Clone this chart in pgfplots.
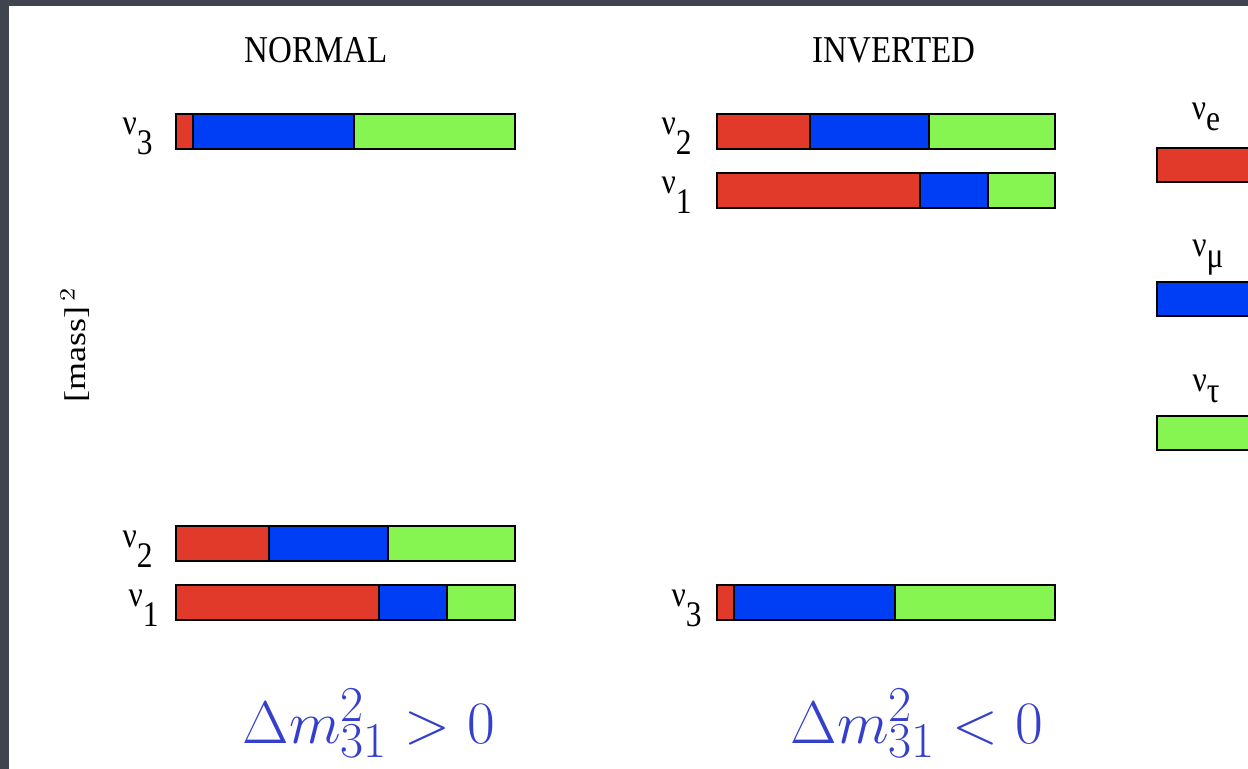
\documentclass[border=0pt]{standalone}
\usepackage{fontspec}
\setmainfont{Liberation Serif}
\usepackage{pgfplots}
\pgfplotsset{compat=1.18}
\definecolor{nred}{RGB}{226,58,42}
\definecolor{nblue}{RGB}{0,62,245}
\definecolor{ngreen}{RGB}{134,245,82}
\definecolor{dmblue}{RGB}{52,64,204}
\definecolor{slidebg}{RGB}{64,68,78}
\pgfplotsset{
  base/.style={scale only axis, width=624pt, height=384.5pt,
    xmin=0, xmax=1248, ymin=0, ymax=769, y dir=reverse, hide axis,
    at={(0pt,0pt)}, anchor=south west},
  stk/.style={base, xbar stacked, bar width=35, bar shift=0pt},
  seg/.style={fill=#1, draw=black, line width=1pt},
}
\newcommand{\nul}[2]{\scalebox{1.05}[1.2]{ν\raisebox{#2}{#1}}}
\begin{document}
\begin{tikzpicture}
% background and text
\begin{axis}[base, clip=false]
\fill[slidebg] (axis cs:0,0) rectangle (axis cs:1248,769);
\fill[white] (axis cs:9,6) rectangle (axis cs:1248,769);
\node[anchor=base, font=\fontsize{16.5}{16.5}\selectfont] at (axis cs:316,63) {\scalebox{1}[1.15]{NORMAL}};
\node[anchor=base, font=\fontsize{16.5}{16.5}\selectfont] at (axis cs:894,63) {\scalebox{1}[1.15]{INVERTED}};
\node[anchor=base, font=\fontsize{15}{15}\selectfont, rotate=90] at (axis cs:85,345) {\scalebox{1.2}[1]{[mass]$^{\,2}$}};
% normal labels
\node[anchor=base east, font=\fontsize{15}{15}\selectfont, inner sep=0pt] at (axis cs:153,135) {\nul{3}{-0.55em}};
\node[anchor=base east, font=\fontsize{15}{15}\selectfont, inner sep=0pt] at (axis cs:153,548) {\nul{2}{-0.55em}};
\node[anchor=base east, font=\fontsize{15}{15}\selectfont, inner sep=0pt] at (axis cs:159,607) {\nul{1}{-0.55em}};
% inverted labels
\node[anchor=base east, font=\fontsize{15}{15}\selectfont, inner sep=0pt] at (axis cs:692,135) {\nul{2}{-0.55em}};
\node[anchor=base east, font=\fontsize{15}{15}\selectfont, inner sep=0pt] at (axis cs:692,194) {\nul{1}{-0.55em}};
\node[anchor=base east, font=\fontsize{15}{15}\selectfont, inner sep=0pt] at (axis cs:702,607) {\nul{3}{-0.55em}};
% legend labels
\node[anchor=base, font=\fontsize{15}{15}\selectfont, inner sep=0pt] at (axis cs:1206,120) {\nul{e}{-0.3em}};
\node[anchor=base, font=\fontsize{15}{15}\selectfont, inner sep=0pt] at (axis cs:1208,257) {\nul{μ}{-0.3em}};
\node[anchor=base, font=\fontsize{15}{15}\selectfont, inner sep=0pt] at (axis cs:1206,392) {\nul{τ}{-0.3em}};
% mass splitting
\node[anchor=base, text=dmblue, inner sep=0pt] at (axis cs:369,743) {\scalebox{1.21}{\fontsize{24.88}{26}\selectfont$\Delta m^2_{31} > 0$}};
\node[anchor=base, text=dmblue, inner sep=0pt] at (axis cs:917,743) {\scalebox{1.21}{\fontsize{24.88}{26}\selectfont$\Delta m^2_{31} < 0$}};
\end{axis}
% NORMAL ordering: rows nu3, nu2, nu1
\begin{axis}[stk]
\addplot[draw=none, fill=none] coordinates {(176,131.5) (176,544) (176,603)};
\addplot[seg=nred]   coordinates {(17,131.5) (93,544) (203,603)};
\addplot[seg=nblue]  coordinates {(161,131.5) (119,544) (68,603)};
\addplot[seg=ngreen] coordinates {(161,131.5) (127,544) (68,603)};
\end{axis}
% INVERTED ordering: rows nu2, nu1, nu3
\begin{axis}[stk]
\addplot[draw=none, fill=none] coordinates {(717,131.5) (717,190.5) (717,603)};
\addplot[seg=nred]   coordinates {(93,131.5) (203,190.5) (17,603)};
\addplot[seg=nblue]  coordinates {(119,131.5) (68,190.5) (161,603)};
\addplot[seg=ngreen] coordinates {(126,131.5) (67,190.5) (160,603)};
\end{axis}
% legend swatches
\begin{axis}[stk, bar width=34]
\addplot[draw=none, fill=none] coordinates {(1157,165.5) (1157,299.5) (1157,433.5)};
\addplot[seg=nred]   coordinates {(200,165.5) (0,299.5) (0,433.5)};
\addplot[seg=nblue]  coordinates {(0,165.5) (200,299.5) (0,433.5)};
\addplot[seg=ngreen] coordinates {(0,165.5) (0,299.5) (200,433.5)};
\end{axis}
\end{tikzpicture}
\end{document}
